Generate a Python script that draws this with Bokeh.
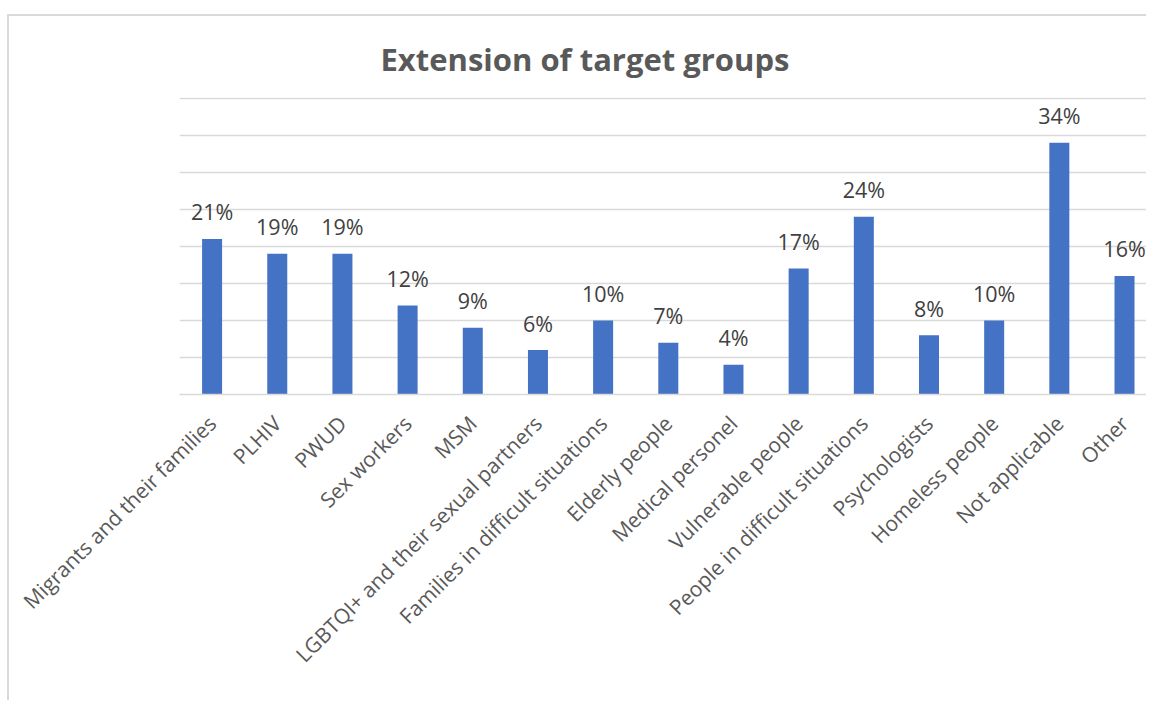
import math
from bokeh.plotting import figure
from bokeh.models import FixedTicker, Range1d, ColumnDataSource
from bokeh.core.properties import value
from bokeh.embed import file_html
from bokeh.resources import INLINE

title_text = "Extension of target groups"
categories = [
    "Migrants and their families", "PLHIV", "PWUD", "Sex workers", "MSM",
    "LGBTQI+ and their sexual partners", "Families in difficult situations",
    "Elderly people", "Medical personel", "Vulnerable people",
    "People in difficult situations", "Psychologists", "Homeless people",
    "Not applicable", "Other",
]
percent = [21, 19, 19, 12, 9, 6, 10, 7, 4, 17, 24, 8, 10, 34, 16]
grid_ticks = [5, 10, 15, 20, 25, 30, 35, 40]

FONT = "Open Sans"
idx = list(range(len(categories)))
src = ColumnDataSource(dict(x=idx, top=percent, lab=[f"{v}%" for v in percent]))

W, H = 1139, 686
LEFT, TOP, FH = 170, 81, 297
p = figure(width=W, height=H, output_backend="svg", toolbar_location=None,
           x_range=Range1d(-0.5, 14.368), y_range=Range1d(0, 40.1),
           min_border_left=LEFT, min_border_right=0, min_border_top=TOP,
           min_border_bottom=H - TOP - FH)
p.styles = {"margin-left": "7px", "margin-top": "14px",
            "border-top": "2px solid #d9d9d9", "border-left": "2px solid #d9d9d9"}
p.outline_line_color = None
p.background_fill_color = "white"
p.border_fill_color = "white"

p.title.text = title_text
p.title.align = "left"
p.title.offset = 201
p.title.vertical_align = "bottom"
p.title.standoff = 35
p.title.text_font = FONT
p.title.text_font_style = "bold"
p.title.text_font_size = "31px"
p.title.text_color = "#595959"

p.vbar(x="x", top="top", width=0.307, bottom=0, source=src,
       fill_color="#4472C4", line_color=None)
p.text(x="x", y="top", text="lab", source=src, text_align="center",
       text_baseline="alphabetic", y_offset=-27, text_color="#404040",
       text_font=value(FONT), text_font_size="21.5px")

p.yaxis.visible = False
p.ygrid.ticker = FixedTicker(ticks=grid_ticks)
p.ygrid.grid_line_color = "#d9d9d9"
p.ygrid.grid_line_width = 1.5
p.xgrid.visible = False

ax = p.xaxis[0]
ax.ticker = FixedTicker(ticks=idx)
ax.major_label_overrides = {i: c for i, c in zip(idx, categories)}
ax.major_label_orientation = math.pi / 4
ax.major_tick_line_color = None
ax.minor_tick_line_color = None
ax.major_tick_out = 0
ax.major_tick_in = 0
ax.major_label_standoff = 25
ax.axis_line_color = "#d9d9d9"
ax.axis_line_width = 1.5
ax.major_label_text_font = FONT
ax.major_label_text_font_size = "21px"
ax.major_label_text_color = "#595959"

open("out.html", "w").write(file_html(p, INLINE))
